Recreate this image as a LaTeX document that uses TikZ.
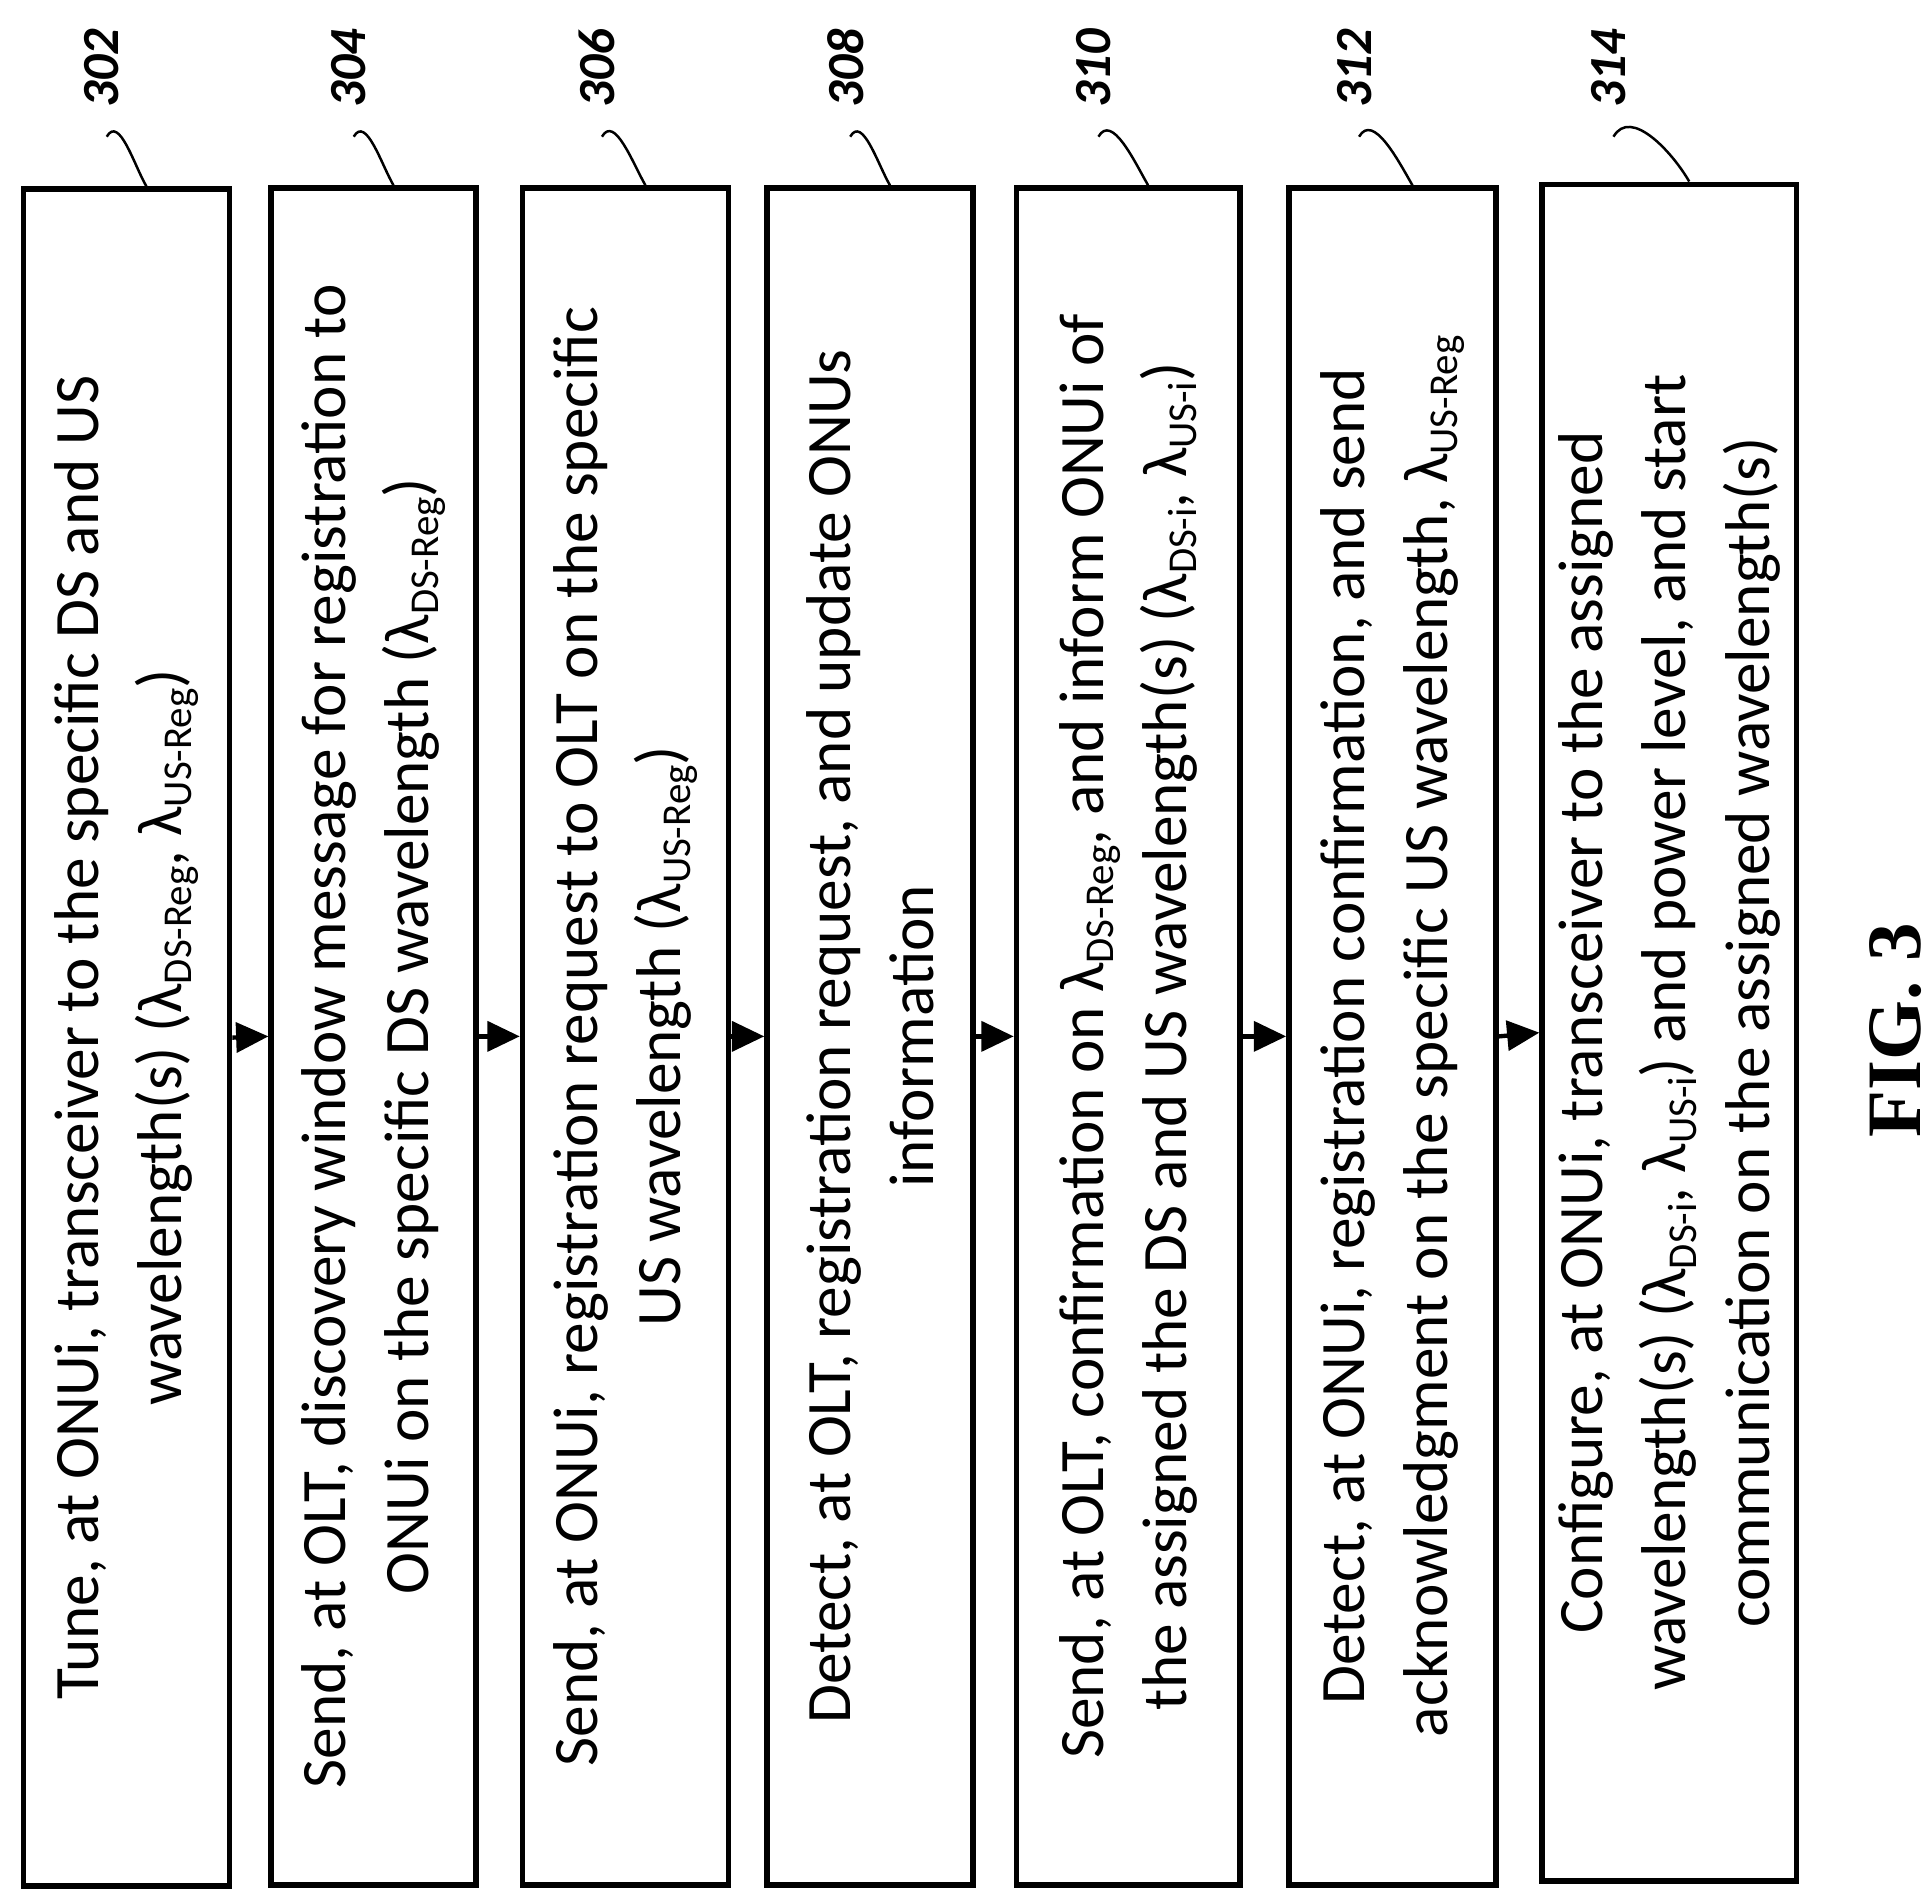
\documentclass[tikz,border=0pt]{standalone}
\usepackage{fontspec}
\setmainfont{Carlito}
\newfontfamily\figfont{Liberation Serif}
\usepackage{tikz}
\usetikzlibrary{arrows.meta}
\newcommand{\lam}[1]{λ\raisebox{-0.35ex}{\fontsize{33}{33}\selectfont #1}}

\begin{document}
\begin{tikzpicture}[x=1pt,y=-1pt]
  \tikzset{BoxStyle/.style = {
    shape         = rectangle,
    draw          = black,
    line width    = 4.5pt,
    rotate        = 90,
    minimum width = 1367pt,
    align         = center,
    font          = \fontsize{51}{67}\selectfont,
    inner sep     = 0pt
    }
  }
  \tikzset{LabelStyle/.style = {
    rotate        = 90,
    font          = \fontsize{42}{42}\selectfont\bfseries\itshape,
    inner sep     = 1pt
    }
  }
  \tikzset{ArrowStyle/.style = {
    draw          = black,
    line width    = 3.5pt,
    -{Triangle[length=26pt,width=24pt]}
    }
  }
  \tikzset{LeadStyle/.style = {
    draw          = black,
    line width    = 2pt
    }
  }
  \useasboundingbox (0,0) rectangle (1555,1530);

	\node[BoxStyle, minimum height=166pt](B302) at (102,836) {Tune, at ONUi, transceiver to the specific DS and US\\ wavelength(s) (\lam{DS-Reg}, \lam{US-Reg})};
	\node[BoxStyle, minimum height=165pt](B304) at (301,835) {Send, at OLT, discovery window message for registration to\\ ONUi on the specific DS wavelength (\lam{DS-Reg})};
	\node[BoxStyle, minimum height=166pt](B306) at (504,835) {Send, at ONUi, registration request to OLT on the specific\\ US wavelength (\lam{US-Reg})};
	\node[BoxStyle, minimum height=166pt](B308) at (701,835) {Detect, at OLT, registration request, and update ONUs\\ information};
	\node[BoxStyle, minimum height=180pt](B310) at (909,835) {Send, at OLT, confirmation on \lam{DS-Reg}, and inform ONUi of\\ the assigned the DS and US wavelength(s) (\lam{DS-i}, \lam{US-i})};
	\node[BoxStyle, minimum height=167pt](B312) at (1122,835) {Detect, at ONUi, registration confirmation, and send\\ acknowledgment on the specific US wavelength, \lam{US-Reg}};
	\node[BoxStyle, minimum height=205pt](B314) at (1345,832) {Configure, at ONUi, transceiver to the assigned\\ wavelength(s) (\lam{DS-i}, \lam{US-i}) and power level, and start\\ communication on the assigned wavelength(s)};

	\draw[ArrowStyle](B302.south) to (B304.north);
	\draw[ArrowStyle](B304.south) to (B306.north);
	\draw[ArrowStyle](B306.south) to (B308.north);
	\draw[ArrowStyle](B308.south) to (B310.north);
	\draw[ArrowStyle](B310.south) to (B312.north);
	\draw[ArrowStyle](B312.south) to (B314.north);

	\node[LabelStyle](L302) at (82,55) {302};
	\node[LabelStyle](L304) at (281,55) {304};
	\node[LabelStyle](L306) at (481,55) {306};
	\node[LabelStyle](L308) at (681,55) {308};
	\node[LabelStyle](L310) at (881,55) {310};
	\node[LabelStyle](L312) at (1091,55) {312};
	\node[LabelStyle](L314) at (1296,55) {314};

	\draw[LeadStyle]([xshift=4pt,yshift=-22pt]L302.west) to[out=60, in=120] ([xshift=16pt]B302.east);
	\draw[LeadStyle]([xshift=4pt,yshift=-22pt]L304.west) to[out=60, in=120] ([xshift=16pt]B304.east);
	\draw[LeadStyle]([xshift=4pt,yshift=-22pt]L306.west) to[out=60, in=120] ([xshift=16pt]B306.east);
	\draw[LeadStyle]([xshift=4pt,yshift=-22pt]L308.west) to[out=60, in=120] ([xshift=16pt]B308.east);
	\draw[LeadStyle]([xshift=4pt,yshift=-22pt]L310.west) to[out=60, in=120] ([xshift=16pt]B310.east);
	\draw[LeadStyle]([xshift=4pt,yshift=-22pt]L312.west) to[out=60, in=120] ([xshift=16pt]B312.east);
	\draw[LeadStyle]([xshift=4pt,yshift=-22pt]L314.west) to[out=60, in=120] ([xshift=16pt]B314.east);

	\node[rotate=90, font=\figfont\fontsize{62}{62}\selectfont\bfseries](fig) at (1527,830) {FIG. 3};
\end{tikzpicture}
\end{document}
